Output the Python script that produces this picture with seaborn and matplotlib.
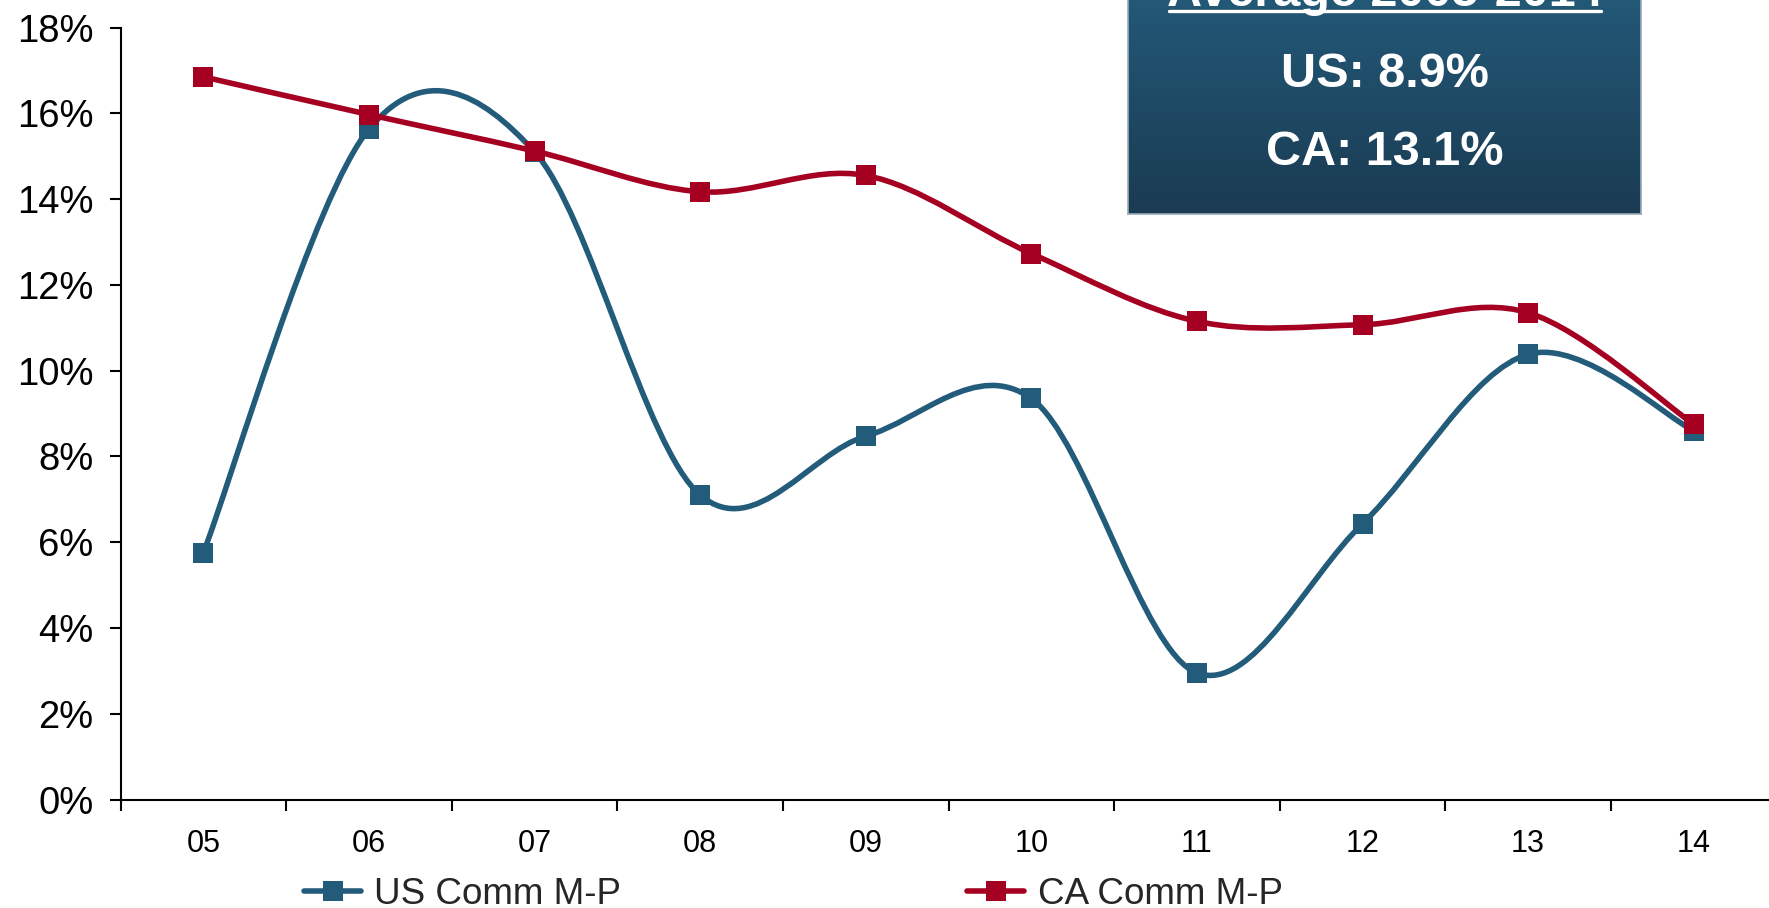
import numpy as np
import pandas as pd
import matplotlib
matplotlib.use("Agg")
import matplotlib.pyplot as plt
from matplotlib.path import Path
from matplotlib.patches import PathPatch
from matplotlib.lines import Line2D
from matplotlib.colors import LinearSegmentedColormap
import seaborn as sns

# ---------------- data ----------------
years = ["05", "06", "07", "08", "09", "10", "11", "12", "13", "14"]
us_vals = [5.75, 15.63, 15.1, 7.1, 8.47, 9.35, 2.95, 6.43, 10.38, 8.6]
ca_vals = [16.85, 15.97, 15.12, 14.17, 14.55, 12.73, 11.15, 11.07, 11.35, 8.75]
series_names = ["US Comm M-P", "CA Comm M-P"]
y_ticks = [0, 2, 4, 6, 8, 10, 12, 14, 16, 18]
y_tick_labels = [f"{v}%" for v in y_ticks]
box_title = "Average 2005-2014"
box_lines = ["US: 8.9%", "CA: 13.1%"]

US_COLOR = "#235C7B"
CA_COLOR = "#A50021"

sns.set_theme(style="ticks")
plt.rcParams["font.family"] = ["Liberation Sans", "DejaVu Sans"]

W, H = 1769, 908
fig = plt.figure(figsize=(W / 100, H / 100), dpi=100)
fig.patch.set_facecolor("white")
ax_left, ax_bottom_px, ax_top_px = 120.5, 799.5, 27.5
ax = fig.add_axes([ax_left / W, (H - ax_bottom_px) / H, 1656 / W,
                   (ax_bottom_px - ax_top_px) / H])
ax.set_facecolor("white")

df = pd.DataFrame({"x": np.arange(len(years)), "year": years,
                   "US": us_vals, "CA": ca_vals})


def smooth_path(xs, ys):
    """Excel-style smoothed line (Catmull-Rom as cubic Bezier) through the points."""
    pts = np.column_stack([xs, ys]).astype(float)
    n = len(pts)
    verts = [pts[0]]
    codes = [Path.MOVETO]
    for i in range(n - 1):
        p0 = pts[i - 1] if i > 0 else pts[i]
        p1 = pts[i]
        p2 = pts[i + 1]
        p3 = pts[i + 2] if i + 2 < n else pts[i + 1]
        verts += [p1 + (p2 - p0) / 6, p2 - (p3 - p1) / 6, p2]
        codes += [Path.CURVE4] * 3
    return Path(verts, codes)


for col, color, z in [("US", US_COLOR, 2), ("CA", CA_COLOR, 4)]:
    patch = PathPatch(smooth_path(df["x"], df[col]), facecolor="none",
                      edgecolor=color, lw=4, zorder=z, capstyle="butt",
                      joinstyle="round")
    ax.add_patch(patch)
    sns.scatterplot(data=df, x="x", y=col, marker="s", s=196, color=color,
                    linewidth=0, ax=ax, zorder=z + 0.5, legend=False)

ax.set_xlim(-0.5, len(years) - 0.5)
ax.set_ylim(0, 18)
ax.set_xlabel("")
ax.set_ylabel("")

ax.set_xticks(df["x"])
ax.set_xticklabels(years, fontsize=22, color="black")
ax.set_xticks(np.arange(-0.5, len(years), 1.0), minor=True)
ax.tick_params(axis="x", which="major", length=0, pad=21.5)
ax.tick_params(axis="x", which="minor", length=8, width=1.5, color="black",
               direction="out", bottom=True)
ax.set_yticks(y_ticks)
ax.set_yticklabels(y_tick_labels, fontsize=27.5, color="black")
ax.tick_params(axis="y", which="major", length=8, width=1.5, color="black",
               direction="out", pad=11.5, left=True)

for s in ["top", "right"]:
    ax.spines[s].set_visible(False)
for s in ["left", "bottom"]:
    ax.spines[s].set_color("black")
    ax.spines[s].set_linewidth(1.5)

# ---------------- average box ----------------
bx0, bx1, by1 = 1128, 1641, 214
bax = fig.add_axes([bx0 / W, (H - by1) / H, (bx1 - bx0) / W, (by1 + 30) / H])
cmap = LinearSegmentedColormap.from_list("box", ["#1A3B52", "#245C7C"])
grad = np.linspace(0, 1, 256).reshape(-1, 1)
bax.imshow(grad, cmap=cmap, aspect="auto", extent=[0, 1, 0, 1], origin="lower")
bax.set_xticks([])
bax.set_yticks([])
for s in bax.spines.values():
    s.set_color("#9AAAB8")
    s.set_linewidth(1.2)

cx = (bx0 + bx1) / 2 / W
fig.text(cx, (H - 6) / H, box_title, ha="center", va="baseline",
         fontsize=35, fontweight="bold", color="white")
fig.add_artist(Line2D([(cx * W - 216) / W, (cx * W + 216) / W],
                      [(H - 11) / H, (H - 11) / H], color="white", lw=2.4,
                      transform=fig.transFigure))
fig.text(cx, (H - 87) / H, box_lines[0], ha="center", va="baseline",
         fontsize=35, fontweight="bold", color="white")
fig.text(cx, (H - 165) / H, box_lines[1], ha="center", va="baseline",
         fontsize=35, fontweight="bold", color="white")

# ---------------- legend ----------------
handles = [Line2D([0], [0], color=US_COLOR, lw=4, marker="s", markersize=14,
                  markeredgewidth=0),
           Line2D([0], [0], color=CA_COLOR, lw=4, marker="s", markersize=14,
                  markeredgewidth=0)]
fig.legend(handles, series_names, loc="center left",
           bbox_to_anchor=(304 / W, 0.0154), ncol=2, frameon=False,
           fontsize=26.5, handlelength=1.55, handletextpad=0.36,
           columnspacing=9.4, borderpad=0, borderaxespad=0, numpoints=1)

fig.savefig("out.png", dpi=100)
